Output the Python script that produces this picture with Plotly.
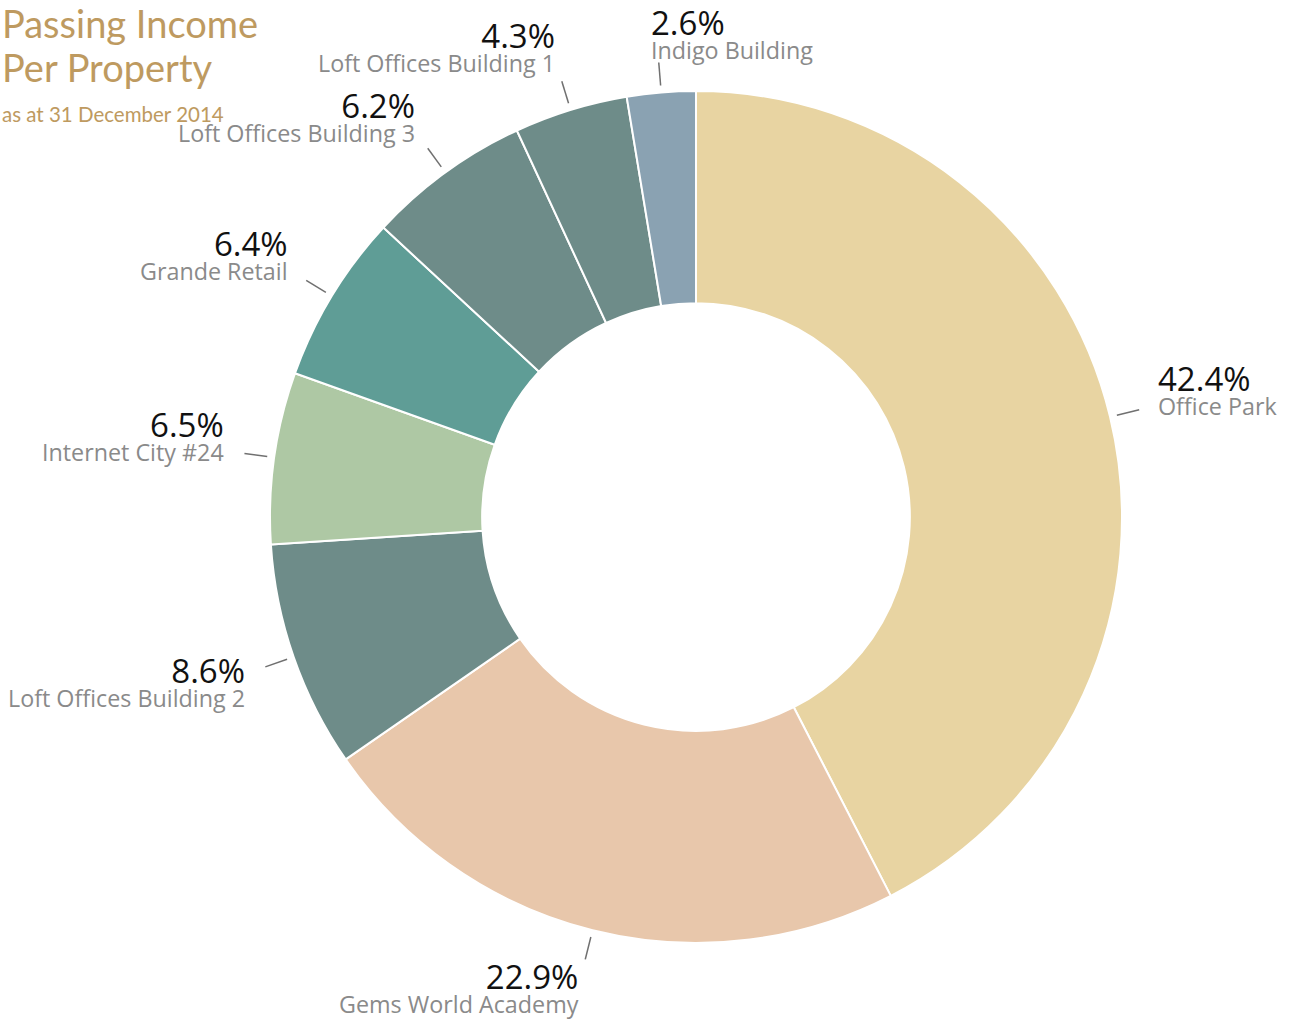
import math
import plotly.graph_objects as go

# ---- data ----
properties = ["Office Park", "Gems World Academy", "Loft Offices Building 2",
              "Internet City #24", "Grande Retail", "Loft Offices Building 3",
              "Loft Offices Building 1", "Indigo Building"]
shares = [42.4, 22.9, 8.6, 6.5, 6.4, 6.2, 4.3, 2.6]
colors = ["#E8D4A2", "#E8C7AB", "#6E8C89", "#AEC8A4", "#5F9D96",
          "#6E8C89", "#6E8C89", "#8AA2B2"]
title_lines = ["Passing Income", "Per Property"]
subtitle = "as at 31 December 2014"

# ---- layout geometry (pixels) ----
W, H = 1296, 1024
CX, CY, R = 696, 517, 426


def px(x, y):
    return x / W, 1 - y / H


fig = go.Figure()
fig.add_trace(go.Pie(
    labels=properties, values=shares, sort=False, direction="clockwise",
    rotation=0, hole=0.502, textinfo="none", hoverinfo="label+percent",
    marker=dict(colors=colors, line=dict(color="white", width=2)),
    domain=dict(x=[(CX - R) / W, (CX + R) / W],
                y=[1 - (CY + R) / H, 1 - (CY - R) / H]),
    showlegend=False,
))

total = sum(shares)
cum = 0.0
shapes = []
annotations = []
for name, v in zip(properties, shares):
    mid = (cum + v / 2) / total
    cum += v
    th = 2 * math.pi * mid
    s, c = math.sin(th), math.cos(th)
    x1, y1 = CX + 433 * s, CY - 433 * c
    x2, y2 = CX + 456 * s, CY - 456 * c
    X0, Y0 = px(x1, y1)
    X1, Y1 = px(x2, y2)
    shapes.append(dict(type="line", xref="paper", yref="paper",
                       x0=X0, y0=Y0, x1=X1, y1=Y1,
                       line=dict(color="#707070", width=1.5)))
    ax, ay = CX + 476 * s, CY - 476 * c
    if ax > CX - 60:
        xa = "left"
        ax -= 3 if s > 0.2 else 8
    else:
        xa = "right"
        ax += 1
    # centre of the two-line block (kept inside the top edge)
    by = ay - 16 if c > 0 else ay + 8
    by = max(by, 33)
    bX, bY = px(ax, by)
    txt = (f"<span style='font-size:33px;color:#111111'>{v:.1f}%</span>"
           f"<br><span style='font-size:23.3px'>{name}</span>")
    annotations.append(dict(x=bX, y=bY, xref="paper", yref="paper",
                            text=txt, showarrow=False, xanchor=xa, align=xa,
                            yanchor="middle",
                            font=dict(family="Open Sans", size=18.5, color="#8A8A8A")))

# titles
for txt, yy in zip(title_lines, [23, 67]):
    X, Y = px(0, yy)
    annotations.append(dict(x=X, y=Y, xref="paper", yref="paper", text=txt,
                            showarrow=False, xanchor="left", yanchor="middle",
                            font=dict(family="Lato", size=38, color="#BE9A60")))
X, Y = px(0, 114)
annotations.append(dict(x=X, y=Y, xref="paper", yref="paper", text=subtitle,
                        showarrow=False, xanchor="left", yanchor="middle",
                        font=dict(family="Lato", size=20.5, color="#BE9A60")))

fig.update_layout(width=W, height=H, margin=dict(l=0, r=0, t=0, b=0),
                  paper_bgcolor="white", plot_bgcolor="white",
                  shapes=shapes, annotations=annotations)
fig.write_html("out.html", config={"displayModeBar": False},
               post_script="document.body.style.margin='0';")
